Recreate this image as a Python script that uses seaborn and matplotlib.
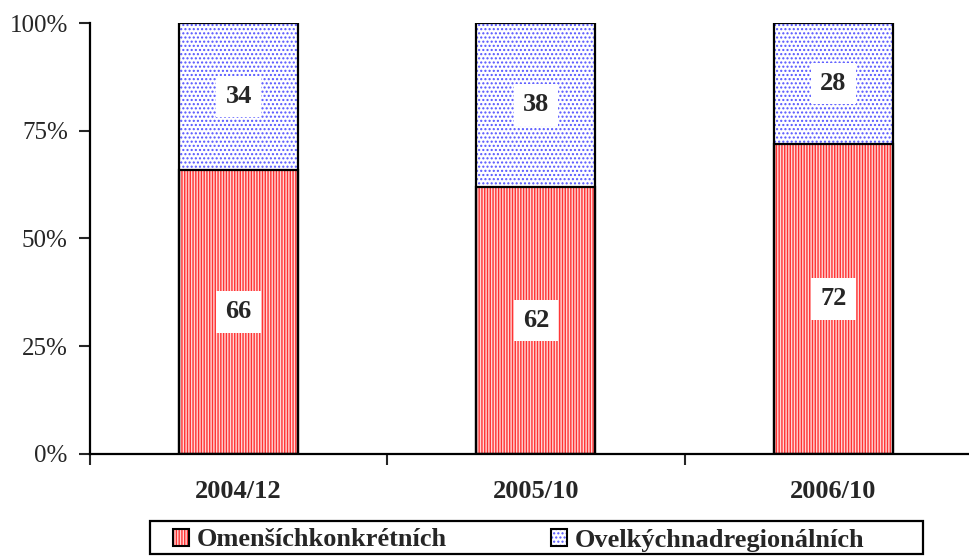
import matplotlib
matplotlib.use("Agg")
import matplotlib.pyplot as plt
import seaborn as sns
import pandas as pd
from matplotlib.patches import Rectangle, Patch
from matplotlib.legend_handler import HandlerBase
from matplotlib.ticker import FixedLocator, FuncFormatter

categories = ["2004/12", "2005/10", "2006/10"]
small_vals = [66, 62, 72]
large_vals = [34, 38, 28]
series_names = ["Omenšíchkonkrétních", "Ovelkýchnadregionálních"]
y_ticks = [0, 25, 50, 75, 100]

red = "#FF3333"
blue = "#5555FF"

sns.set_style("white")
plt.rcParams["font.family"] = ["Liberation Serif", "DejaVu Serif"]
plt.rcParams["hatch.linewidth"] = 1.0

df = pd.DataFrame({"cat": categories, "small": small_vals, "large": large_vals})
df["total"] = df["small"] + df["large"]

fig = plt.figure(figsize=(9.7, 5.56), dpi=100)
ax = fig.add_axes([90 / 970, 1 - 454 / 556, 1 - 90 / 970, (454 - 23) / 556])

sns.barplot(data=df, x="cat", y="total", color="white", width=0.4, ax=ax,
            edgecolor=blue, linewidth=0, hatch="....", saturation=1)
sns.barplot(data=df, x="cat", y="small", color="#FFD6D6", width=0.4, ax=ax,
            edgecolor=red, linewidth=0, hatch="||||||", saturation=1)

for p in list(ax.patches):
    ax.add_patch(Rectangle(p.get_xy(), p.get_width(), p.get_height(),
                           fill=False, edgecolor="black", linewidth=1.6, zorder=3))

for i in range(len(categories)):
    s = small_vals[i]
    l = large_vals[i]
    for yv, txt in [(s / 2, s), (s + l / 2, l)]:
        ax.text(i, yv, str(txt), ha="center", va="center", fontsize=19,
                fontweight="bold", zorder=4,
                bbox=dict(boxstyle="square,pad=0.35", facecolor="white",
                          edgecolor="none"))

ax.set_xlim(-0.5, 2.46)
ax.set_ylim(0, 100)
ax.yaxis.set_major_locator(FixedLocator(y_ticks))
ax.yaxis.set_major_formatter(FuncFormatter(lambda v, p: f"{int(v)}%"))
ax.tick_params(axis="y", which="major", direction="out", length=8, width=1.5,
               labelsize=18, pad=8, left=True)
ax.xaxis.set_minor_locator(FixedLocator([-0.5, 0.5, 1.5, 2.5]))
ax.tick_params(axis="x", which="minor", direction="out", length=8, width=1.5,
               bottom=True)
ax.tick_params(axis="x", which="major", length=0, pad=19, labelsize=19)
for t in ax.get_xticklabels():
    t.set_fontweight("bold")
ax.set_xlabel("")
ax.set_ylabel("")
for s in ["top", "right"]:
    ax.spines[s].set_visible(False)
for s in ["left", "bottom"]:
    ax.spines[s].set_color("black")
    ax.spines[s].set_linewidth(1.6)


class HatchBox(HandlerBase):
    def create_artists(self, legend, orig_handle, xdescent, ydescent, width,
                       height, fontsize, trans):
        r1 = Rectangle((-xdescent, -ydescent), width, height,
                       facecolor=orig_handle.get_facecolor(),
                       edgecolor=orig_handle.get_edgecolor(),
                       hatch=orig_handle.get_hatch(), linewidth=0,
                       transform=trans)
        r2 = Rectangle((-xdescent, -ydescent), width, height, fill=False,
                       edgecolor="black", linewidth=1.5, transform=trans)
        return [r1, r2]


handles = [Patch(facecolor="#FFD6D6", edgecolor=red, hatch="||||||", linewidth=0),
           Patch(facecolor="white", edgecolor=blue, hatch="....", linewidth=0)]
leg = fig.legend(handles, series_names, loc="center left",
                 bbox_to_anchor=(173 / 970, 1 - 540 / 556), ncol=2,
                 frameon=False, prop={"size": 19, "weight": "bold"},
                 handlelength=0.6, handleheight=0.6, handletextpad=0.3,
                 columnspacing=3.95, borderaxespad=0, borderpad=0,
                 handler_map={Patch: HatchBox()})
fig.patches.append(Rectangle((150 / 970, 2 / 556), (923 - 150) / 970,
                             (554 - 521) / 556, transform=fig.transFigure,
                             fill=False, edgecolor="black", linewidth=1.6))

fig.savefig("out.png", dpi=100)
